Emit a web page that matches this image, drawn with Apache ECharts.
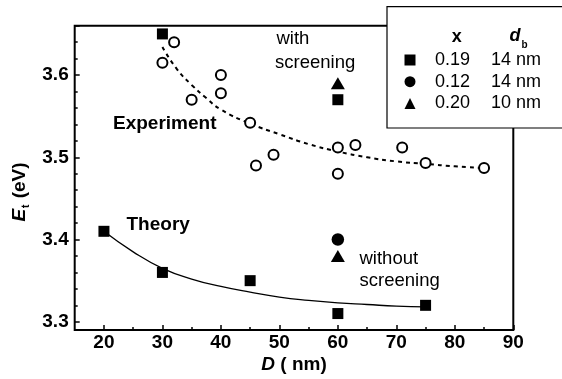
<!DOCTYPE html>
<html><head><meta charset="utf-8">
<script src="https://cdn.jsdelivr.net/npm/echarts@6/dist/echarts.min.js"></script>
<style>html,body{margin:0;padding:0;background:#fff}#c{width:562px;height:379px}</style>
</head><body><div id="c"></div>
<script>
// ---- data ----
const xTickLabels = [20, 30, 40, 50, 60, 70, 80, 90];
const yTickLabels = [3.3, 3.4, 3.5, 3.6];
// Experiment (open circles)
const expD = [30, 32, 35, 40, 40, 45, 46, 49, 60, 60, 63, 71, 75, 85];
const expE = [3.615, 3.640, 3.570, 3.600, 3.578, 3.542, 3.490, 3.503, 3.512, 3.480, 3.515, 3.512, 3.493, 3.487];
// x = 0.19, d_b = 14 nm (squares)
const sqD = [20, 30, 45, 60, 75, 30, 60];
const sqE = [3.41, 3.36, 3.35, 3.31, 3.32, 3.65, 3.57];
// x = 0.12, d_b = 14 nm (filled circle)
const ciD = [60];
const ciE = [3.40];
// x = 0.20, d_b = 10 nm (triangles)
const trD = [60, 60];
const trE = [3.59, 3.38];
// dashed fit through experiment
const fitExpD = [30, 32.5, 35, 37.5, 40, 45, 50, 55, 60, 65, 70, 75, 80, 85];
const fitExpE = [3.634, 3.607, 3.588, 3.572, 3.558, 3.541, 3.528, 3.516, 3.507, 3.500, 3.495, 3.492, 3.489, 3.487];
// solid theory curve
const fitThD = [20, 25, 30, 35, 40, 45, 50, 55, 60, 65, 70, 75];
const fitThE = [3.41, 3.385, 3.365, 3.352, 3.343, 3.336, 3.330, 3.326, 3.323, 3.321, 3.319, 3.318];
// legend table
const legendX = ['0.19', '0.12', '0.20'];
const legendDb = ['14 nm', '14 nm', '10 nm'];
const legendIcons = ['rect', 'circle', 'triangle'];

const FONT = '"Liberation Sans", Arial, Helvetica, sans-serif';
const zip = (a, b) => a.map((v, i) => [v, b[i]]);
const names = legendX.map((x, i) => 'x = ' + x + ', d_b = ' + legendDb[i]);

const chart = echarts.init(document.getElementById('c'), null, {renderer: 'canvas'});
const option = {
  animation: false,
  backgroundColor: '#fff',
  textStyle: {fontFamily: FONT, color: '#000'},
  grid: [
    {left: 74.7, top: 25.7, right: 48.7, bottom: 49, show: true, borderColor: '#000', borderWidth: 2, backgroundColor: 'transparent'},
    {left: 103.9, top: 25.7, right: 48.7, bottom: 57.2}
  ],
  xAxis: [
    {gridIndex: 0, type: 'value', min: 15, max: 90,
      axisLine: {show: false}, axisTick: {show: false}, axisLabel: {show: false}, splitLine: {show: false},
      name: '{i|D}{n| ( nm)}', nameLocation: 'middle', nameGap: 25,
      nameTextStyle: {rich: {
        i: {fontFamily: FONT, fontWeight: 'bold', fontStyle: 'italic', fontSize: 19, color: '#000'},
        n: {fontFamily: FONT, fontWeight: 'bold', fontSize: 19, color: '#000'}
      }}
    },
    {gridIndex: 1, type: 'value', min: 20, max: 90, interval: 10, offset: 8.2,
      axisLine: {show: false},
      axisTick: {show: true, inside: true, length: 5, lineStyle: {color: '#000', width: 1.5}},
      minorTick: {show: true, splitNumber: 2, length: 3, lineStyle: {color: '#000', width: 1.5}},
      splitLine: {show: false},
      axisLabel: {margin: 3, fontFamily: FONT, fontWeight: 'bold', fontSize: 19, color: '#000',
        formatter: v => xTickLabels.indexOf(Math.round(v)) >= 0 ? String(Math.round(v)) : ''}
    }
  ],
  yAxis: [
    {gridIndex: 0, type: 'value', min: 3.29, max: 3.66,
      axisLine: {show: false}, axisTick: {show: false}, axisLabel: {show: false}, splitLine: {show: false}},
    {gridIndex: 1, type: 'value', min: 3.3, max: 3.66, interval: 0.1, offset: 29.2, position: 'left',
      axisLine: {show: false},
      axisTick: {show: true, inside: true, length: 5, lineStyle: {color: '#000', width: 1.5}},
      splitLine: {show: false},
      axisLabel: {margin: 6, fontFamily: FONT, fontWeight: 'bold', fontSize: 19, color: '#000',
        formatter: v => {
          const k = yTickLabels.find(t => Math.abs(t - v) < 1e-6);
          return k !== undefined ? k.toFixed(1) : '';
        }}
    },
    {gridIndex: 1, type: 'value', min: 3.3, max: 3.66, interval: 0.02, offset: 29.2, position: 'left',
      axisLine: {show: false},
      axisTick: {show: true, inside: true, length: 3, lineStyle: {color: '#000', width: 1.5}},
      axisLabel: {show: false}, splitLine: {show: false}
    }
  ],
  legend: {
    show: true, orient: 'vertical', left: 404.5, top: 50, z: 101,
    selectedMode: false, itemWidth: 11, itemHeight: 11, itemGap: 1.7, padding: 0,
    data: names.map((n, i) => ({name: n, icon: legendIcons[i]})),
    formatter: name => {
      const i = names.indexOf(name);
      return '{a|' + legendX[i] + '}{b|' + legendDb[i] + '}';
    },
    textStyle: {fontFamily: FONT, fontSize: 18, color: '#000', lineHeight: 20,
      rich: {
        a: {fontFamily: FONT, fontSize: 18, color: '#000', width: 56, padding: [0, 0, 0, 14.5], lineHeight: 20},
        b: {fontFamily: FONT, fontSize: 18, color: '#000', lineHeight: 20}
      }}
  },
  graphic: [
    {type: 'rect', z: 100, shape: {x: 387, y: 6.7, width: 200, height: 121.3},
      style: {fill: '#fff', stroke: '#000', lineWidth: 1.2}},
    {type: 'text', z: 102, x: 456.7, y: 36.7,
      style: {text: 'x', font: 'bold 18px ' + FONT, fill: '#000', textAlign: 'center', textVerticalAlign: 'middle'}},
    {type: 'text', z: 102, x: 515, y: 36,
      style: {text: 'd', font: 'italic bold 18px ' + FONT, fill: '#000', textAlign: 'center', textVerticalAlign: 'middle'}},
    {type: 'text', z: 102, x: 524.5, y: 45,
      style: {text: 'b', font: 'bold 10px ' + FONT, fill: '#000', textAlign: 'center', textVerticalAlign: 'middle'}},
    {type: 'text', z: 50, x: 113, y: 123.5,
      style: {text: 'Experiment', font: 'bold 19px ' + FONT, fill: '#000', textAlign: 'left', textVerticalAlign: 'middle'}},
    {type: 'text', z: 50, x: 126.5, y: 225,
      style: {text: 'Theory', font: 'bold 19px ' + FONT, fill: '#000', textAlign: 'left', textVerticalAlign: 'middle'}},
    {type: 'text', z: 50, x: 276.5, y: 39,
      style: {text: 'with', font: '18.5px ' + FONT, fill: '#000', textAlign: 'left', textVerticalAlign: 'middle'}},
    {type: 'text', z: 50, x: 275, y: 62.5,
      style: {text: 'screening', font: '18.5px ' + FONT, fill: '#000', textAlign: 'left', textVerticalAlign: 'middle'}},
    {type: 'text', z: 50, x: 359.5, y: 259,
      style: {text: 'without', font: '18.5px ' + FONT, fill: '#000', textAlign: 'left', textVerticalAlign: 'middle'}},
    {type: 'text', z: 50, x: 359.5, y: 281,
      style: {text: 'screening', font: '18.5px ' + FONT, fill: '#000', textAlign: 'left', textVerticalAlign: 'middle'}},
    {type: 'text', z: 50, x: 20, y: 192, rotation: Math.PI / 2,
      style: {text: '{e|E}{s|t}{n| (eV)}', fill: '#000', textAlign: 'center', textVerticalAlign: 'middle',
        rich: {
          e: {fontFamily: FONT, fontWeight: 'bold', fontStyle: 'italic', fontSize: 19, fill: '#000', lineHeight: 22, verticalAlign: 'middle'},
          s: {fontFamily: FONT, fontWeight: 'bold', fontSize: 10, fill: '#000', lineHeight: 22, verticalAlign: 'bottom', padding: [0, 1, 0, 1]},
          n: {fontFamily: FONT, fontWeight: 'bold', fontSize: 19, fill: '#000', lineHeight: 22, verticalAlign: 'middle'}
        }}}
  ],
  series: [
    {type: 'line', name: 'fitExp', xAxisIndex: 0, yAxisIndex: 0, data: zip(fitExpD, fitExpE), smooth: true,
      showSymbol: false, symbol: 'none', z: 2, silent: true,
      lineStyle: {color: '#000', width: 2, type: [4, 4]}},
    {type: 'line', name: 'fitTheory', xAxisIndex: 0, yAxisIndex: 0, data: zip(fitThD, fitThE), smooth: true,
      showSymbol: false, symbol: 'none', z: 2, silent: true,
      lineStyle: {color: '#000', width: 1.3}},
    {type: 'scatter', name: 'Experiment', xAxisIndex: 0, yAxisIndex: 0, data: zip(expD, expE),
      symbol: 'circle', symbolSize: 10, z: 3, clip: false,
      itemStyle: {color: '#fff', borderColor: '#000', borderWidth: 2, opacity: 1}},
    {type: 'scatter', name: names[0], xAxisIndex: 0, yAxisIndex: 0, data: zip(sqD, sqE),
      symbol: 'rect', symbolSize: 11, z: 4, clip: false, itemStyle: {color: '#000', opacity: 1}},
    {type: 'scatter', name: names[1], xAxisIndex: 0, yAxisIndex: 0, data: zip(ciD, ciE),
      symbol: 'circle', symbolSize: 12.5, z: 4, clip: false, itemStyle: {color: '#000', opacity: 1}},
    {type: 'scatter', name: names[2], xAxisIndex: 0, yAxisIndex: 0, data: zip(trD, trE),
      symbol: 'triangle', symbolSize: [14, 12], z: 4, clip: false, itemStyle: {color: '#000', opacity: 1}}
  ]
};
chart.setOption(option);
</script>
</body></html>
